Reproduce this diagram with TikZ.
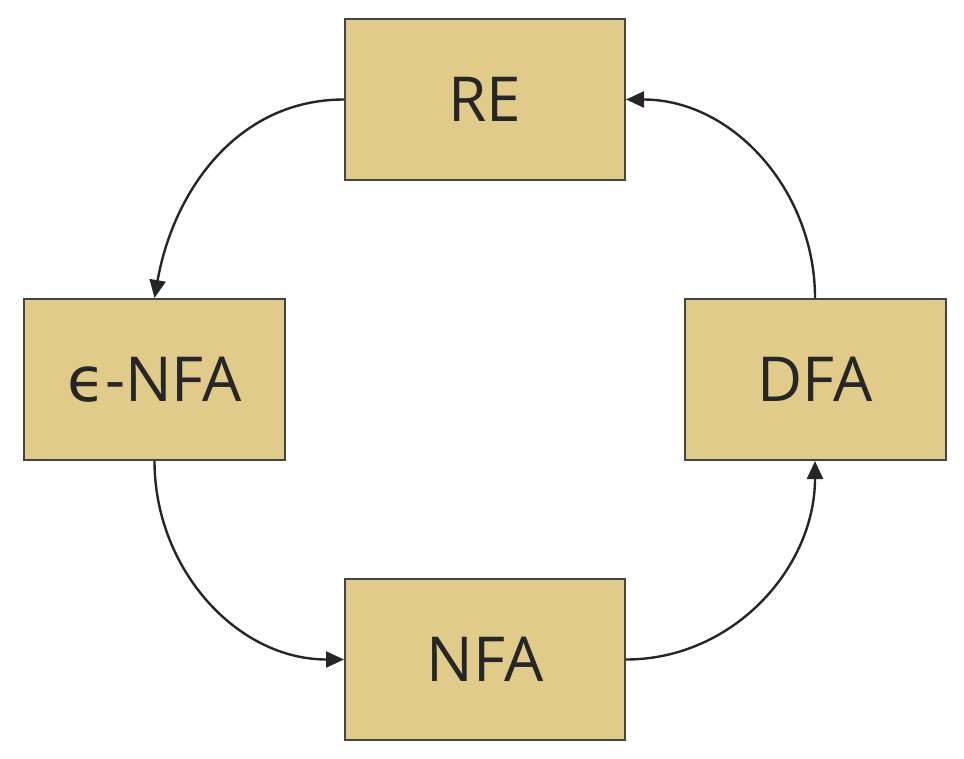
\documentclass[tikz,border=0pt]{standalone}
\usepackage{fontspec}
\setmainfont{Open Sans}
\newfontfamily\greekfont{DejaVu Sans}
\usetikzlibrary{arrows.meta,positioning}
\definecolor{boxfill}{HTML}{E0CB8A}
\definecolor{boxline}{HTML}{444444}
\definecolor{ink}{HTML}{262626}

\begin{document}
\begin{tikzpicture}[
  x=1pt,y=-1pt,
  font=\fontsize{62}{66}\selectfont,
  state/.style={draw=boxline,fill=boxfill,line width=2pt,
                minimum width=280pt,minimum height=161pt,
                text=ink,inner sep=0pt,align=center},
  arr/.style={-{Triangle[length=18pt,width=16pt]},ink,line width=2.4pt},
]
  \useasboundingbox (0,0) rectangle (964,758);

  \node[state] (re) at (485,99.5) {RE};
  \node[state,minimum width=261pt] (enfa) at (154.5,379.5) {{\greekfont ϵ}-NFA};
  \node[state,minimum width=261pt] (dfa) at (815,379.5) {DFA};
  \node[state] (nfa) at (485,659.5) {NFA};

  \draw[arr] (re.west) to[out=180,in=80] (enfa.north);
  \draw[arr] (enfa.south) to[out=-90,in=180] (nfa.west);
  \draw[arr] (nfa.east) to[out=0,in=-90] (dfa.south);
  \draw[arr] (dfa.north) to[out=90,in=0] (re.east);
\end{tikzpicture}
\end{document}
